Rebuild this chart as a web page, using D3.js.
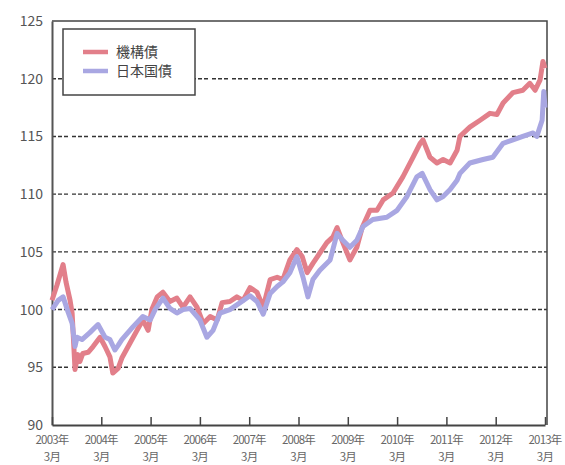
<!DOCTYPE html>
<html><head><meta charset="utf-8">
<script src="https://cdn.jsdelivr.net/npm/d3@7"></script>
<style>body{margin:0;background:#fff}svg{display:block}text{font-family:"Noto Sans CJK JP","Noto Sans",sans-serif}</style>
</head><body><svg id="c" width="565" height="465"></svg>
<script>
// months since 2003-03 and index values
const seriesNames = ["機構債", "日本国債"];
const seriesColors = ["#e27f8a", "#a9a7e2"];
const redMonths = [0,1.2,2.7,3.4,4.4,4.9,5.6,6.3,6.8,7.5,8.8,10.0,11.7,12.9,14.1,14.8,16.1,17.0,19.0,20.7,22.1,23.4,24.3,25.6,27.0,28.7,30.4,31.9,33.6,35.3,36.8,38.5,40.2,41.4,43.3,45.0,46.5,48.2,49.9,51.4,53.1,54.8,56.2,57.9,59.6,60.9,62.1,63.5,65.2,66.9,68.4,69.4,70.8,72.5,74.2,75.5,77.4,79.1,80.6,83.0,85.4,87.9,89.6,90.3,92.0,93.7,95.2,96.9,98.6,99.3,101.7,104.2,106.6,108.3,109.8,112.2,114.6,116.3,117.6,118.8,119.5,120.0];
const redValues = [100.8,102.1,103.9,102.4,100.8,99.7,94.8,96.1,95.5,96.2,96.3,96.8,97.6,96.8,95.9,94.5,94.9,95.8,97.1,98.2,99.1,98.2,100.0,101.1,101.5,100.7,101.0,100.2,101.1,100.2,98.8,99.4,99.1,100.6,100.7,101.1,100.8,101.9,101.5,100.2,102.6,102.8,102.6,104.3,105.2,104.6,103.2,104.0,104.9,105.8,106.3,107.1,105.8,104.3,105.4,107.1,108.6,108.6,109.5,110.1,111.5,113.2,114.4,114.7,113.2,112.7,113.0,112.7,113.8,115.0,115.8,116.4,117.0,116.9,117.9,118.8,119.0,119.6,119.0,119.9,121.5,120.9];
const blueMonths = [0,1.5,2.7,3.9,4.9,5.6,6.1,7.3,9.2,11.2,12.9,14.1,15.3,16.1,17.0,19.7,22.1,23.9,25.1,27.0,28.7,30.4,31.9,33.6,36.0,37.7,39.2,40.9,43.3,45.8,48.2,49.9,51.4,53.1,54.8,56.2,57.9,59.6,61.1,62.3,63.5,65.2,67.7,69.4,70.8,72.5,74.2,75.7,78.1,81.5,84.0,86.4,88.8,90.1,92.0,93.7,95.2,96.9,98.6,99.3,101.7,104.9,107.3,109.8,112.2,114.6,117.1,118.0,119.3,119.7,120.0];
const blueValues = [100.0,100.8,101.1,99.8,98.8,96.8,97.6,97.4,98.0,98.7,97.6,97.4,96.5,96.9,97.4,98.5,99.4,99.1,100.0,101.0,100.1,99.7,100.0,100.1,99.1,97.6,98.2,99.7,100.0,100.6,101.2,100.7,99.6,101.4,102.0,102.4,103.2,104.6,102.8,101.1,102.6,103.4,104.3,106.6,106.0,105.4,106.0,107.2,107.8,108.0,108.6,109.8,111.5,111.8,110.4,109.5,109.8,110.4,111.2,111.8,112.7,113.0,113.2,114.4,114.7,115.0,115.3,115.0,116.4,118.9,117.5];
const yTicks = [90,95,100,105,110,115,120,125];
const xTickMonths = [0,12,24,36,48,60,72,84,96,108,120];
const xTickYears = ["2003年","2004年","2005年","2006年","2007年","2008年","2009年","2010年","2011年","2012年","2013年"];
const xTickMonthLabel = "3月";

const svg = d3.select("#c");
const L = 52, R = 547, T = 21, B = 425;
const x = d3.scaleLinear().domain([0,120]).range([L, 545]);
const y = d3.scaleLinear().domain([90,125]).range([B, T]);

// gridlines
svg.append("g").selectAll("line").data(yTicks.filter(v => v > 90 && v < 125)).join("line")
  .attr("x1", L).attr("x2", R).attr("y1", d => y(d)).attr("y2", d => y(d))
  .attr("stroke", "#333").attr("stroke-width", 1.4).attr("stroke-dasharray", "4,2,4,2,4,4");

// frame top / right
svg.append("path").attr("d", `M${L},${T}H${R}V${B}`).attr("fill","none").attr("stroke","#444").attr("stroke-width",1.5);

// y axis
const ya = svg.append("g").attr("transform", `translate(${L},0)`)
  .call(d3.axisLeft(y).tickValues(yTicks).tickSize(0).tickPadding(9));
ya.select(".domain").attr("stroke", "#555").attr("stroke-width", 2);
ya.selectAll("text").attr("font-size", 14).attr("fill", "#555").attr("font-family", "'Liberation Sans',Arial,sans-serif");

// x axis
const xa = svg.append("g").attr("transform", `translate(0,${B})`)
  .call(d3.axisBottom(x).tickValues(xTickMonths).tickSizeInner(-8).tickSizeOuter(0).tickFormat(""));
xa.select(".domain").attr("stroke", "#444").attr("stroke-width", 2);
xa.selectAll(".tick line").attr("stroke", "#444").attr("stroke-width", 1.5);
const xl = svg.append("g").selectAll("g").data(xTickMonths).join("g")
  .attr("transform", d => `translate(${x(d)},0)`);
xl.append("text").attr("y", 444).attr("text-anchor", "middle").attr("font-size", 11.5)
  .attr("letter-spacing", -0.8).attr("fill", "#666").text((d,i) => xTickYears[i]);
xl.append("text").attr("y", 461).attr("text-anchor", "middle").attr("font-size", 11.5)
  .attr("letter-spacing", -0.8).attr("fill", "#666").text(xTickMonthLabel);

// lines
const line = d3.line().x(d => x(d[0])).y(d => y(d[1]));
const redData = redMonths.map((m,i) => [m, redValues[i]]);
const blueData = blueMonths.map((m,i) => [m, blueValues[i]]);
svg.append("path").datum(redData).attr("d", line).attr("fill","none")
  .attr("stroke", seriesColors[0]).attr("stroke-width", 5).attr("stroke-linejoin","round");
svg.append("path").datum(blueData).attr("d", line).attr("fill","none")
  .attr("stroke", seriesColors[1]).attr("stroke-width", 5).attr("stroke-linejoin","round");

// legend
const lg = svg.append("g");
lg.append("rect").attr("x", 63).attr("y", 29).attr("width", 132).attr("height", 66)
  .attr("fill", "#fff").attr("stroke", "#444").attr("stroke-width", 1.5);
seriesNames.forEach((n,i) => {
  const yy = 52 + i*19;
  lg.append("line").attr("x1", 83).attr("x2", 108).attr("y1", yy).attr("y2", yy)
    .attr("stroke", seriesColors[i]).attr("stroke-width", 4.5);
  lg.append("text").attr("x", 116).attr("y", yy + 5).attr("font-size", 14).attr("fill", "#444").text(n);
});
</script></body></html>
